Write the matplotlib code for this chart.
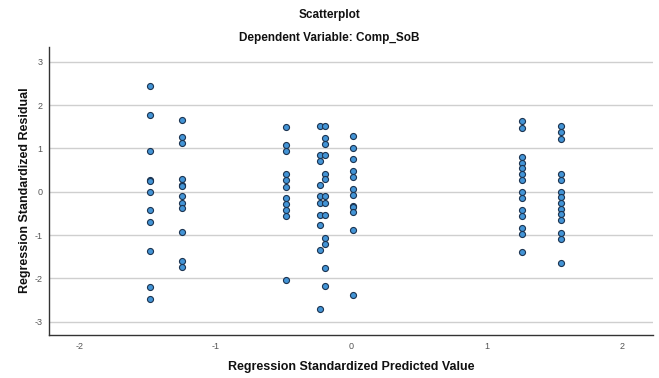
import numpy as np
import matplotlib
matplotlib.use('Agg')
import matplotlib.pyplot as plt

plt.rcParams['font.family'] = ['Liberation Sans', 'DejaVu Sans']
plt.rcParams['axes.unicode_minus'] = False

# predicted value columns and the residuals found in each
col_x = [-1.483, -1.245, -0.48, -0.231, -0.19, 0.012, 1.264, 1.55]
col_res = [
    [2.44, 1.77, 0.94, 0.26, 0.25, -0.01, -0.42, -0.70, -1.38, -2.20, -2.47],
    [1.66, 1.26, 1.12, 0.30, 0.15, 0.14, -0.11, -0.25, -0.38, -0.94, -1.60, -1.74],
    [1.49, 1.09, 0.95, 0.40, 0.26, 0.12, -0.15, -0.28, -0.42, -0.55, -2.05],
    [1.52, 0.85, 0.72, 0.16, -0.11, -0.25, -0.53, -0.78, -1.34, -2.70],
    [1.52, 1.24, 1.11, 0.85, 0.42, 0.29, -0.11, -0.25, -0.53, -1.08, -1.21, -1.76, -2.17],
    [1.29, 1.01, 0.75, 0.48, 0.35, 0.07, -0.07, -0.33, -0.36, -0.48, -0.89, -2.39],
    [1.63, 1.48, 0.80, 0.67, 0.54, 0.41, 0.28, -0.01, -0.15, -0.42, -0.56, -0.83, -0.97, -1.40],
    [1.51, 1.37, 1.22, 0.41, 0.27, 0.0, -0.13, -0.26, -0.39, -0.52, -0.65, -0.96, -1.10, -1.65],
]

x = []
y = []
for cx, res in zip(col_x, col_res):
    x += [cx] * len(res)
    y += res

fig = plt.figure(figsize=(6.59, 3.78), dpi=100)
ax = fig.add_axes([49.3 / 659, 1 - 335 / 378, 603.4 / 659, 288.3 / 378])

ax.scatter(x, y, s=19, facecolor='#4394d6', edgecolor='#1b3350', linewidth=0.8, zorder=3)

ax.set_xlim(-2.227, 2.227)
ax.set_ylim(-3.31, 3.35)
ax.set_xticks([-2, -1, 0, 1, 2])
ax.set_yticks([-3, -2, -1, 0, 1, 2, 3])
ax.grid(axis='y', color='#cfcfcf', linewidth=1.0, zorder=0)
ax.set_axisbelow(True)
for s in ['top', 'right']:
    ax.spines[s].set_visible(False)
for s in ['left', 'bottom']:
    ax.spines[s].set_color('#333333')
    ax.spines[s].set_linewidth(1.0)
ax.tick_params(length=0, labelsize=6.5, labelcolor='#555555', pad=5)

fig.text(0.5, 1 - 15 / 378, 'Scatterplot', ha='center', va='center',
         fontsize=8.5, fontweight='bold', color='#111111')
fig.text(0.5, 1 - 38.3 / 378, 'Dependent Variable: Comp_SoB', ha='center', va='center',
         fontsize=8.5, fontweight='bold', color='#111111')
fig.text(351 / 659, 1 - 366.7 / 378, 'Regression Standardized Predicted Value',
         ha='center', va='center', fontsize=9, fontweight='bold', color='#111111')
fig.text(25 / 659, 1 - 190 / 378, 'Regression Standardized Residual', rotation=90,
         ha='center', va='center', fontsize=9, fontweight='bold', color='#111111')

fig.savefig('out.png', dpi=100)
